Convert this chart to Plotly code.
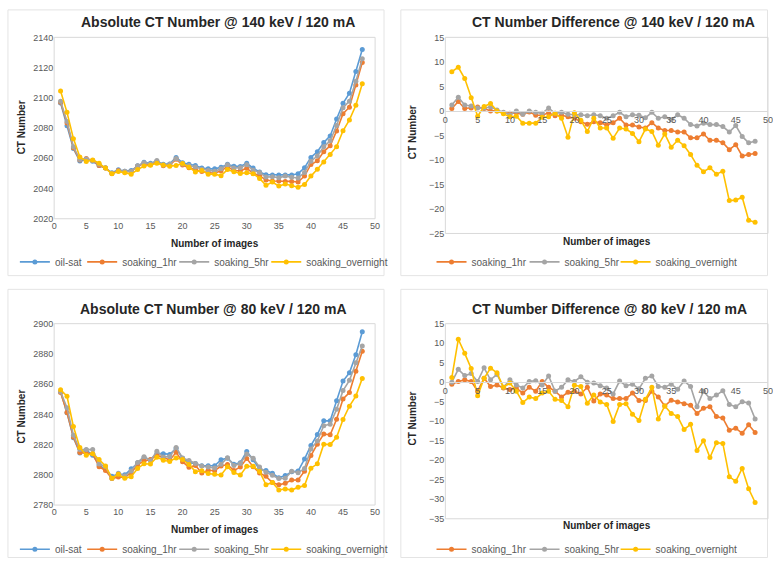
import plotly.graph_objects as go

W, H = 773, 564
images = list(range(1, 49))

# ---- 140 keV absolute ----
abs140_oil = [2096.5, 2081.5, 2066.4, 2058.2, 2059.0, 2058.0, 2055.2, 2053.5, 2050.4, 2052.4,
              2051.5, 2052.0, 2055.0, 2057.4, 2056.7, 2058.0, 2056.0, 2056.3, 2060.6, 2057.0,
              2056.0, 2055.2, 2053.5, 2053.0, 2053.0, 2054.1, 2056.0, 2054.8, 2054.6, 2056.7,
              2053.5, 2050.9, 2049.1, 2049.0, 2049.0, 2049.0, 2049.0, 2049.8, 2053.7, 2060.6,
              2064.3, 2070.4, 2074.8, 2086.0, 2096.4, 2103.0, 2117.4, 2132.0]
abs140_1hr = [2097.0, 2083.4, 2066.9, 2058.8, 2059.8, 2058.5, 2055.2, 2053.5, 2050.0, 2051.9,
              2051.1, 2051.3, 2054.8, 2056.5, 2055.8, 2057.6, 2055.0, 2055.4, 2059.4, 2055.5,
              2053.8, 2052.5, 2051.3, 2050.6, 2050.1, 2051.7, 2054.5, 2051.9, 2051.7, 2053.4,
              2050.0, 2048.5, 2045.6, 2045.0, 2045.0, 2044.7, 2044.7, 2044.3, 2048.2, 2055.9,
              2058.3, 2064.4, 2068.3, 2078.1, 2089.5, 2093.8, 2108.5, 2123.3]
abs140_5hr = [2097.7, 2084.3, 2067.6, 2059.2, 2059.6, 2058.6, 2056.0, 2053.7, 2050.1, 2051.6,
              2051.5, 2051.3, 2055.0, 2057.1, 2056.2, 2058.6, 2055.5, 2056.0, 2059.9, 2056.2,
              2055.2, 2054.2, 2052.7, 2052.0, 2051.5, 2053.1, 2055.7, 2053.6, 2053.8, 2055.8,
              2052.1, 2050.6, 2047.6, 2047.8, 2047.2, 2048.2, 2047.5, 2047.0, 2050.6, 2058.1,
              2061.5, 2067.6, 2071.6, 2081.7, 2093.4, 2097.8, 2110.9, 2125.8]
abs140_night = [2104.5, 2090.4, 2073.0, 2060.9, 2057.9, 2058.9, 2056.7, 2053.5, 2049.8, 2051.2,
                2050.4, 2049.5, 2052.5, 2054.9, 2055.4, 2056.8, 2055.5, 2054.8, 2055.2, 2056.6,
                2054.1, 2051.0, 2052.0, 2049.5, 2049.5, 2048.5, 2052.5, 2051.1, 2050.0, 2050.4,
                2049.8, 2046.7, 2042.1, 2044.3, 2041.6, 2043.0, 2041.9, 2040.9, 2042.6, 2048.2,
                2052.7, 2057.5, 2062.5, 2067.7, 2078.2, 2085.4, 2095.1, 2109.3]

# ---- 140 keV difference ----
diff140_1hr = [0.5, 1.9, 0.5, 0.6, 0.8, 0.5, 0.0, 0.0, -0.4, -0.5,
               -0.4, -0.7, -0.2, -0.9, -0.9, -0.4, -1.0, -0.9, -1.2, -1.5,
               -2.2, -2.7, -2.2, -2.4, -2.9, -2.4, -1.5, -2.9, -2.9, -3.3,
               -3.5, -2.4, -3.5, -4.0, -4.0, -4.3, -4.3, -5.5, -5.5, -4.7,
               -6.0, -6.0, -6.5, -7.9, -6.9, -9.2, -8.9, -8.7]
diff140_5hr = [1.2, 2.8, 1.2, 1.0, 0.6, 0.6, 0.8, 0.2, -0.3, -0.8,
               0.0, -0.7, 0.0, -0.3, -0.5, 0.6, -0.5, -0.3, -0.7, -0.8,
               -0.8, -1.0, -0.8, -1.0, -1.5, -1.0, -0.3, -1.2, -0.8, -0.9,
               -1.4, -0.3, -1.5, -1.2, -1.8, -0.8, -1.5, -2.8, -3.1, -2.5,
               -2.8, -2.8, -3.2, -4.3, -3.0, -5.2, -6.5, -6.2]
diff140_night = [8.0, 8.9, 6.6, 2.7, -1.1, 0.9, 1.5, 0.0, -0.6, -1.2,
                 -1.1, -2.5, -2.5, -2.5, -1.3, -1.2, -0.5, -1.5, -5.4, -0.4,
                 -1.9, -4.2, -1.5, -3.5, -3.5, -5.6, -3.5, -3.7, -4.6, -6.3,
                 -3.7, -4.2, -7.0, -4.7, -7.4, -6.0, -7.1, -8.9, -11.1, -12.4,
                 -11.6, -12.9, -12.3, -18.3, -18.2, -17.6, -22.3, -22.7]

# ---- 80 keV absolute ----
abs80_oil = [2855.0, 2841.0, 2824.5, 2814.5, 2816.5, 2813.0, 2806.5, 2803.5, 2799.0, 2800.5,
             2800.0, 2804.0, 2808.0, 2811.5, 2810.0, 2814.0, 2814.0, 2813.5, 2817.5, 2811.0,
             2808.0, 2807.5, 2806.0, 2806.0, 2806.0, 2810.0, 2811.0, 2807.0, 2808.0, 2815.5,
             2810.0, 2803.5, 2802.8, 2801.0, 2798.0, 2799.5, 2802.0, 2802.5, 2810.4, 2819.4,
             2826.6, 2835.8, 2835.7, 2849.0, 2862.0, 2867.5, 2879.4, 2894.6]
abs80_1hr = [2854.5, 2841.2, 2825.1, 2814.7, 2814.2, 2814.0, 2805.4, 2802.8, 2797.5, 2798.6,
             2798.5, 2801.2, 2806.7, 2809.2, 2810.2, 2812.7, 2811.7, 2809.7, 2814.9, 2808.7,
             2805.0, 2806.2, 2801.2, 2803.0, 2802.7, 2805.8, 2806.8, 2802.8, 2805.2, 2810.8,
             2805.3, 2801.2, 2799.0, 2794.9, 2793.4, 2794.4, 2796.5, 2796.6, 2802.4, 2812.7,
             2820.3, 2827.0, 2826.5, 2836.7, 2850.2, 2854.4, 2868.5, 2881.7]
abs80_5hr = [2855.0, 2844.3, 2826.2, 2816.7, 2816.7, 2816.7, 2807.1, 2805.5, 2797.7, 2801.1,
             2799.3, 2802.5, 2808.2, 2811.9, 2809.3, 2815.6, 2811.7, 2812.2, 2818.1, 2811.2,
             2809.4, 2807.5, 2805.8, 2805.1, 2804.5, 2807.0, 2811.3, 2806.1, 2807.5, 2813.8,
             2811.0, 2805.1, 2801.7, 2799.7, 2797.5, 2797.7, 2802.3, 2801.4, 2804.1, 2817.1,
             2822.4, 2832.5, 2833.5, 2843.3, 2855.7, 2862.5, 2874.1, 2885.2]
abs80_night = [2856.2, 2852.0, 2831.9, 2818.0, 2813.0, 2814.0, 2810.1, 2805.9, 2797.7, 2800.3,
               2797.7, 2798.8, 2804.2, 2807.3, 2807.2, 2811.7, 2809.6, 2808.8, 2811.2, 2810.2,
               2806.9, 2802.1, 2802.7, 2800.9, 2800.3, 2799.9, 2805.3, 2801.5, 2799.8, 2805.7,
               2805.6, 2802.2, 2793.4, 2794.9, 2790.0, 2790.7, 2789.9, 2791.7, 2792.9, 2804.4,
               2807.3, 2820.3, 2820.0, 2824.8, 2836.6, 2845.4, 2852.1, 2863.8]

# ---- 80 keV difference ----
diff80_1hr = [-0.5, 0.2, 0.6, 0.2, -2.3, 1.0, -1.1, -0.7, -1.5, -1.9,
              -1.5, -2.8, -1.3, -2.3, 0.2, -1.3, -2.3, -3.8, -2.6, -2.3,
              -3.0, -1.3, -4.8, -3.0, -3.3, -4.2, -4.2, -4.2, -2.8, -4.7,
              -4.7, -2.3, -3.8, -6.1, -4.6, -5.1, -5.5, -5.9, -8.0, -6.7,
              -6.3, -8.8, -9.2, -12.3, -11.8, -13.1, -10.9, -12.9]
diff80_5hr = [0.0, 3.3, 1.7, 2.2, 0.2, 3.7, 0.6, 2.0, -1.3, 0.6,
              -0.7, -1.5, 0.2, 0.4, -0.7, 1.6, -2.3, -1.3, 0.6, 0.2,
              1.4, 0.0, -0.2, -0.9, -1.5, -3.0, 0.3, -0.9, -0.5, -1.7,
              1.0, 1.6, -1.1, -1.3, -0.5, -1.8, 0.3, -1.1, -6.3, -2.3,
              -4.2, -3.3, -2.2, -5.7, -6.3, -5.0, -5.3, -9.4]
diff80_night = [1.2, 11.0, 7.4, 3.5, -3.5, 1.0, 3.6, 2.4, -1.3, -0.2,
                -2.3, -5.2, -3.8, -4.2, -2.8, -2.3, -4.4, -4.7, -6.3, -0.8,
                -1.1, -5.4, -3.3, -5.1, -5.7, -10.1, -5.7, -5.5, -8.2, -9.8,
                -4.4, -1.3, -9.4, -6.1, -8.0, -8.8, -12.1, -10.8, -17.5, -15.0,
                -19.3, -15.5, -15.7, -24.2, -25.4, -22.1, -27.3, -30.8]

series_names = ["oil-sat", "soaking_1hr", "soaking_5hr", "soaking_overnight"]
colors = ["#5B9BD5", "#ED7D31", "#A5A5A5", "#FFC000"]

titles = ["Absolute CT Number @ 140 keV / 120 mA", "CT Number Difference @ 140 keV / 120 mA",
          "Absolute CT Number @ 80 keV / 120 mA", "CT Number Difference @ 80 keV / 120 mA"]
x_title = "Number of images"
y_title = "CT Number"

FONT = "Liberation Sans, Arial, sans-serif"
TICK_COLOR = "#595959"
BORDER = "#D9D9D9"

def px(x):
    return x / W

def py(y):
    return 1 - y / H

fig = go.Figure()

# legend text start positions (px) and row y (px) for each panel
legend_rows = [
    ([52, 120, 213, 306], 262),
    ([473, 567, 659], 262),
    ([52, 120, 213, 306], 555),
    ([473, 567, 659], 555),
]

panels = [
    ("x", "y", [abs140_oil, abs140_1hr, abs140_5hr, abs140_night], 0),
    ("x2", "y2", [diff140_1hr, diff140_5hr, diff140_night], 1),
    ("x3", "y3", [abs80_oil, abs80_1hr, abs80_5hr, abs80_night], 0),
    ("x4", "y4", [diff80_1hr, diff80_5hr, diff80_night], 1),
]

legend_layouts = {}
leg_idx = 0
for (xa, ya, data, start), (tx_list, ly) in zip(panels, legend_rows):
    for i, vals in enumerate(data):
        ci = i + start
        leg_idx += 1
        lname = "legend" if leg_idx == 1 else f"legend{leg_idx}"
        fig.add_trace(go.Scatter(
            x=images, y=vals, name=series_names[ci], mode="lines+markers",
            line=dict(color=colors[ci], width=1.6),
            marker=dict(color=colors[ci], size=5),
            xaxis=xa, yaxis=ya, legend=lname))
        legend_layouts[lname] = dict(
            x=px(tx_list[i] - 40), y=py(ly), xanchor="left", yanchor="middle",
            orientation="h", font=dict(family=FONT, size=10, color=TICK_COLOR),
            bgcolor="rgba(0,0,0,0)", borderwidth=0, itemwidth=30)

# domains
dom_left_x = [px(51.7), px(376)]
dom_right_x = [px(447), 1.0]
d_tl_y = [py(218), py(33)]
d_tr_y = [py(233), py(33)]
d_bl_y = [py(510), py(325)]
d_br_y = [py(524), py(325)]

tick_font = dict(family=FONT, size=9, color=TICK_COLOR)
common_x = dict(range=[0, 50], dtick=5, tick0=0, showgrid=False, zeroline=False,
                tickfont=tick_font, ticks="", fixedrange=True, ticklabeloverflow="allow")
common_y = dict(showgrid=False, zeroline=False, tickfont=tick_font, ticks="", fixedrange=True)

tr_range = [-25, 15]
br_range = [-35, 15]
tr_zero = d_tr_y[0] + (0 - tr_range[0]) / (tr_range[1] - tr_range[0]) * (d_tr_y[1] - d_tr_y[0])
br_zero = d_br_y[0] + (0 - br_range[0]) / (br_range[1] - br_range[0]) * (d_br_y[1] - d_br_y[0])

fig.update_layout(
    width=W, height=H, margin=dict(l=0, r=0, t=0, b=0),
    paper_bgcolor="white", plot_bgcolor="white",
    font=dict(family=FONT),
    xaxis=dict(domain=dom_left_x, anchor="y", **common_x),
    yaxis=dict(domain=d_tl_y, anchor="x", range=[2020, 2140], dtick=20, **common_y),
    xaxis2=dict(domain=dom_right_x, anchor="free", position=tr_zero, showline=True,
                linecolor=BORDER, linewidth=1, **common_x),
    yaxis2=dict(domain=d_tr_y, anchor="x2", range=tr_range, dtick=5, **common_y),
    xaxis3=dict(domain=dom_left_x, anchor="y3", **common_x),
    yaxis3=dict(domain=d_bl_y, anchor="x3", range=[2780, 2900], dtick=20, **common_y),
    xaxis4=dict(domain=dom_right_x, anchor="free", position=br_zero, showline=True,
                linecolor=BORDER, linewidth=1, **common_x),
    yaxis4=dict(domain=d_br_y, anchor="x4", range=br_range, dtick=5, **common_y),
    showlegend=True,
)
fig.update_layout(**legend_layouts)

# panel borders and plot-area borders
shapes = []
for (x0, y0, x1, y1) in [(5, 5, 385, 276), (402, 5, 772.5, 276), (5, 290, 385, 563.5), (402, 290, 772.5, 563.5)]:
    shapes.append(dict(type="rect", xref="paper", yref="paper", x0=px(x0), x1=px(x1),
                       y0=py(y1), y1=py(y0), line=dict(color="#E4E4E4", width=1), layer="below"))
for xa, ya in [("x", "y"), ("x2", "y2"), ("x3", "y3"), ("x4", "y4")]:
    shapes.append(dict(type="rect", xref=f"{xa} domain", yref=f"{ya} domain", x0=0, x1=1, y0=0, y1=1,
                       line=dict(color=BORDER, width=1), layer="below"))
fig.update_layout(shapes=shapes)

annotations = []
title_pos = [(217, 17), (617, 17), (213, 310), (613, 310)]
for t, (tx, ty) in zip(titles, title_pos):
    annotations.append(dict(text=f"<b>{t}</b>", x=px(tx), y=py(ty), xref="paper", yref="paper",
                            showarrow=False, xanchor="center", yanchor="middle",
                            font=dict(family=FONT, size=14, color="#262626")))
xt_pos = [(214, 243), (610, 241), (214, 535), (610, 531)]
for (tx, ty) in xt_pos:
    annotations.append(dict(text=f"<b>{x_title}</b>", x=px(tx), y=py(ty), xref="paper", yref="paper",
                            showarrow=False, xanchor="center", yanchor="middle",
                            font=dict(family=FONT, size=10, color="#262626")))
yt_pos = [(19, 125), (414, 130), (19, 420), (414, 422)]
for (tx, ty) in yt_pos:
    annotations.append(dict(text=f"<b>{y_title}</b>", x=px(tx), y=py(ty), xref="paper", yref="paper",
                            showarrow=False, xanchor="center", yanchor="middle", textangle=-90,
                            font=dict(family=FONT, size=10, color="#262626")))
fig.update_layout(annotations=annotations)

fig.write_html("out.html")
